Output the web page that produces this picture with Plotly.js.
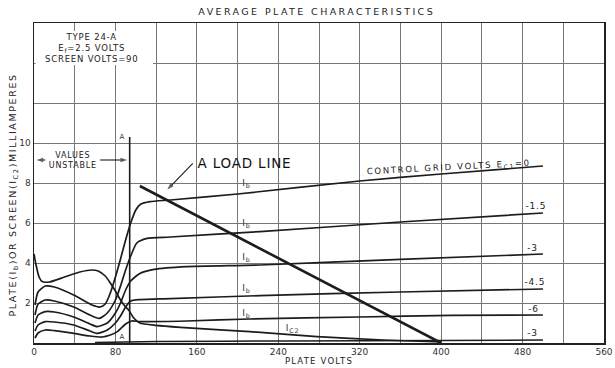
<!DOCTYPE html>
<html>
<head>
<meta charset="utf-8">
<script src="https://cdn.plot.ly/plotly-3.0.1.min.js"></script>
<style>
  html, body { margin: 0; padding: 0; background: #ffffff; }
  #plot { width: 615px; height: 368px; }
  #plot .gtitle { letter-spacing: 2.4px; }
  #plot .g-xtitle text { letter-spacing: 1.2px; }
  #plot .annotation-text { letter-spacing: 0.8px; }
  #plot g.annotation[data-index="2"] text { letter-spacing: 1.7px; }
  #plot g.annotation[data-index="3"] text { letter-spacing: 1.6px; }
</style>
</head>
<body>
<div id="plot"></div>
<script>
// ---- data ----
// Plate current Ib (mA) vs plate volts, for each control-grid voltage
const ec0V   = [1, 4, 11, 20, 39, 57, 65, 70, 75, 80, 85, 90, 95, 100, 105, 114, 134, 200, 320, 400, 500];
const ec0I   = [1.9, 2.55, 2.85, 2.8, 2.4, 1.9, 1.8, 1.95, 2.5, 3.3, 4.2, 5.15, 6.0, 6.65, 6.95, 7.07, 7.15, 7.45, 8.1, 8.45, 8.85];

const ec15V  = [1, 4, 11, 20, 39, 55, 64, 72, 80, 85, 90, 95, 101, 111, 134, 222, 360, 500];
const ec15I  = [1.4, 1.95, 2.15, 2.1, 1.8, 1.4, 1.23, 1.5, 2.15, 2.85, 3.65, 4.35, 5.0, 5.23, 5.3, 5.57, 6.05, 6.5];

const ec3V   = [1, 4, 11, 20, 39, 55, 62, 72, 80, 85, 90, 95, 104, 118, 150, 222, 360, 500];
const ec3I   = [1.0, 1.4, 1.57, 1.55, 1.3, 0.95, 0.82, 1.0, 1.5, 2.0, 2.65, 3.1, 3.48, 3.68, 3.82, 3.9, 4.18, 4.45];

const ec45V  = [1, 4, 11, 20, 39, 55, 62, 72, 80, 85, 90, 95, 104, 134, 222, 360, 500];
const ec45I  = [0.6, 0.9, 1.07, 1.05, 0.9, 0.6, 0.48, 0.65, 1.0, 1.35, 1.8, 2.1, 2.17, 2.22, 2.37, 2.55, 2.7];

const ec6V   = [1, 4, 11, 20, 39, 55, 67, 75, 82, 90, 96, 104, 150, 212, 320, 410, 500];
const ec6I   = [0.25, 0.5, 0.65, 0.62, 0.48, 0.35, 0.3, 0.4, 0.57, 0.95, 1.1, 1.07, 1.1, 1.2, 1.3, 1.38, 1.4];

const ec9V   = [60, 90, 120, 250, 400, 500];
const ec9I   = [0.02, 0.05, 0.08, 0.1, 0.13, 0.15];

// Screen current Ic2 (mA)
const ic2V   = [0, 2, 5, 8, 15, 30, 45, 57, 63, 70, 75, 80, 85, 90, 93, 98, 104, 120, 144, 212, 278, 343, 400];
const ic2I   = [4.45, 3.9, 3.3, 3.07, 3.05, 3.3, 3.55, 3.65, 3.6, 3.35, 3.0, 2.6, 2.15, 1.8, 1.65, 1.25, 1.0, 0.88, 0.78, 0.57, 0.32, 0.15, 0.05];

// Load line and the "A" limit line
const loadV  = [104, 400];
const loadI  = [7.85, 0];
const aLineV = [94, 94];
const aLineI = [0, 10.3];

// Labels
const gridLabels   = ['-1.5', '-3', '-4.5', '-6', '-3'];
const gridLabelV   = [493, 490, 492, 491, 490];
const gridLabelI   = [6.85, 4.75, 3.05, 1.7, 0.5];
const ibLabelV     = [209, 209, 209, 209, 209];
const ibLabelI     = [8.0, 6.0, 4.3, 2.75, 1.5];
const xTickVals    = [0, 80, 160, 240, 320, 400, 480, 560];
const yTickVals    = [2, 4, 6, 8, 10];

// ---- build the figure ----
const ink = '#1c1c1c';
const fam = 'DejaVu Sans, Liberation Sans, sans-serif';
function curve(x, y, w, shape) {
  return { x: x, y: y, type: 'scatter', mode: 'lines',
           line: { color: ink, width: w, shape: shape || 'spline', smoothing: 0.6 },
           hoverinfo: 'skip', showlegend: false };
}
function arrow(x, y) {
  return { x: x, y: y, type: 'scatter', mode: 'lines+markers',
           line: { color: ink, width: 1.1 },
           marker: { symbol: 'arrow', angleref: 'previous', size: [0, 7], color: ink, line: { width: 0 } },
           hoverinfo: 'skip', showlegend: false };
}
const traces = [
  curve(ec0V, ec0I, 1.7), curve(ec15V, ec15I, 1.7), curve(ec3V, ec3I, 1.7),
  curve(ec45V, ec45I, 1.7), curve(ec6V, ec6I, 1.7), curve(ec9V, ec9I, 1.5),
  curve(ic2V, ic2I, 1.7),
  curve(loadV, loadI, 2.6, 'linear'),
  curve(aLineV, aLineI, 1.6, 'linear'),
  // pointer arrows of the notes
  arrow([156, 131], [8.98, 7.67]),
  arrow([11, 2.5], [9.15, 9.15]),
  arrow([65, 91.5], [9.15, 9.15])
];

const small = { family: fam, size: 9, color: '#222' };
const ann = [];
// 0: info box
ann.push({ x: 57, y: 14.75, xref: 'x', yref: 'y', showarrow: false,
  text: 'TYPE 24-A<br>E<sub>f</sub>=2.5 VOLTS<br>SCREEN VOLTS=90',
  font: { family: fam, size: 8.5, color: '#222' }, align: 'center' });
// 1: load-line label
ann.push({ x: 207, y: 9.0, xref: 'x', yref: 'y', showarrow: false, text: 'A LOAD LINE',
  font: { family: fam, size: 13.5, color: '#111' } });
// 2: control grid label
ann.push({ x: 408, y: 8.8, xref: 'x', yref: 'y', showarrow: false, textangle: -3,
  text: 'CONTROL GRID VOLTS E<sub>C1</sub>=0', font: { family: fam, size: 8.5, color: '#222' } });
// 3: y-axis title
ann.push({ x: -0.036, y: 0.462, xref: 'paper', yref: 'paper', xanchor: 'center', yanchor: 'middle',
  showarrow: false, textangle: -90,
  text: 'PLATE(I<sub>b</sub>)OR SCREEN(I<sub>C2</sub>)MILLIAMPERES',
  font: { family: fam, size: 9.5, color: '#222' } });
// grid-voltage labels
for (let i = 0; i < gridLabels.length; i++) {
  ann.push({ x: gridLabelV[i], y: gridLabelI[i], xref: 'x', yref: 'y', showarrow: false,
    text: gridLabels[i], font: small });
}
// Ib labels
for (let i = 0; i < ibLabelV.length; i++) {
  ann.push({ x: ibLabelV[i], y: ibLabelI[i], xref: 'x', yref: 'y', showarrow: false,
    text: 'I<sub>b</sub>', font: { family: fam, size: 9, color: '#333' } });
}
ann.push({ x: 254, y: 0.75, xref: 'x', yref: 'y', showarrow: false,
  text: 'I<sub>C2</sub>', font: { family: fam, size: 9, color: '#333' } });
// A marks
ann.push({ x: 86.5, y: 10.3, xref: 'x', yref: 'y', showarrow: false, text: 'A',
  font: { family: fam, size: 7, color: '#333' } });
ann.push({ x: 86.5, y: 0.28, xref: 'x', yref: 'y', showarrow: false, text: 'A',
  font: { family: fam, size: 7, color: '#333' } });
// values unstable
ann.push({ x: 38, y: 9.15, xref: 'x', yref: 'y', showarrow: false, text: 'VALUES<br>UNSTABLE',
  font: { family: fam, size: 8, color: '#222' } });

const gridStyle = { showgrid: true, gridcolor: '#777', gridwidth: 1, ticks: '' };
const layout = {
  width: 615, height: 368,
  margin: { l: 34, r: 11, t: 23, b: 25, pad: 0 },
  paper_bgcolor: '#ffffff', plot_bgcolor: '#ffffff',
  showlegend: false,
  title: { text: 'AVERAGE PLATE CHARACTERISTICS', x: 0.515, xanchor: 'center',
           y: 0.968, yanchor: 'middle', font: { family: fam, size: 9.5, color: '#222' } },
  xaxis: { range: [0, 560], tickmode: 'array', tickvals: xTickVals, ticks: '',
           showgrid: true, gridcolor: '#777', gridwidth: 1, zeroline: false,
           minor: Object.assign({ dtick: 40, tick0: 0 }, gridStyle),
           showline: true, mirror: true, linecolor: '#222', linewidth: 1.5,
           tickfont: { family: fam, size: 9, color: '#333' },
           title: { text: 'PLATE VOLTS', standoff: 2, font: { family: fam, size: 8.5, color: '#222' } },
           automargin: false, fixedrange: true },
  yaxis: { range: [0, 16], tickmode: 'array', tickvals: yTickVals, ticks: '',
           showgrid: true, gridcolor: '#777', gridwidth: 1, zeroline: false,
           minor: Object.assign({ dtick: 2, tick0: 0 }, gridStyle),
           showline: true, mirror: true, linecolor: '#222', linewidth: 1.5,
           tickfont: { family: fam, size: 9, color: '#333' },
           automargin: false, fixedrange: true },
  shapes: [
    { type: 'rect', xref: 'x', yref: 'y', x0: 1.5, x1: 117, y0: 13.9, y1: 15.6,
      layer: 'between', fillcolor: '#ffffff', line: { width: 0 } }
  ],
  annotations: ann
};

Plotly.newPlot('plot', traces, layout, { staticPlot: true, displayModeBar: false });
</script>
</body>
</html>
